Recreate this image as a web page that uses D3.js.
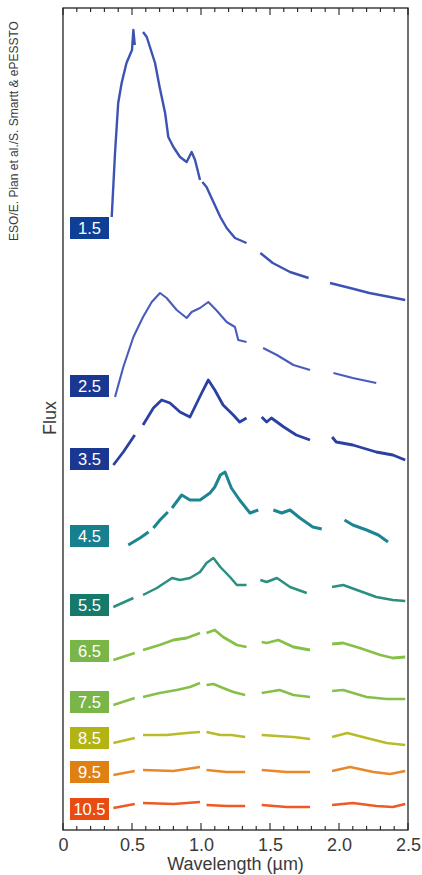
<!DOCTYPE html>
<html>
<head>
<meta charset="utf-8">
<script src="https://cdn.jsdelivr.net/npm/d3@7"></script>
<style>
  html, body { margin: 0; padding: 0; background: #fff; }
  svg { display: block; }
  text { font-family: "Liberation Sans", "DejaVu Sans", sans-serif; }
</style>
</head>
<body>
<svg id="chart" width="422" height="875"></svg>
<script>
// ---- Data (wavelength in µm, flux in arbitrary offset units; null = gap) ----
const epochs = ["1.5", "2.5", "3.5", "4.5", "5.5", "6.5", "7.5", "8.5", "9.5", "10.5"];
const xTicks = [0, 0.5, 1.0, 1.5, 2.0, 2.5];
const xTickLabels = ["0", "0.5", "1.0", "1.5", "2.0", "2.5"];
const labelFlux = [60.2, 44.4, 37.1, 29.4, 22.5, 17.9, 12.8, 9.2, 5.8, 2.1];

const spec_1_5 = [[0.353,61.3],[0.377,67.7],[0.40,72.7],[0.425,74.7],[0.46,76.7],[0.50,78.0],[0.51,80.0],[0.52,78.5],null,
  [0.58,79.8],[0.607,79.3],[0.63,78.3],[0.667,76.7],[0.70,74.3],[0.74,71.7],[0.763,69.3],[0.80,68.3],[0.848,67.3],[0.896,66.8],[0.932,67.8],[0.957,67.0],[0.993,65.0],null,
  [1.01,64.8],[1.04,64.3],[1.09,62.8],[1.14,61.3],[1.186,60.2],[1.246,59.2],[1.33,58.7],null,
  [1.43,57.7],[1.52,56.7],[1.645,55.8],[1.78,55.2],null,
  [1.935,54.7],[2.08,54.2],[2.22,53.7],[2.37,53.3],[2.48,53.0]];
const spec_2_5 = [[0.377,43.3],[0.437,46.3],[0.51,49.3],[0.58,51.3],[0.643,52.8],[0.703,53.7],[0.751,53.2],[0.824,52.0],[0.896,51.2],[0.932,51.8],[0.993,52.2],
  [1.053,52.8],[1.11,52.0],[1.186,50.8],[1.246,50.3],[1.27,49.0],[1.33,48.8],null,
  [1.45,48.2],[1.55,47.5],[1.67,46.5],[1.79,46.0],null,
  [1.96,45.7],[2.10,45.2],[2.27,44.7]];
const spec_3_5 = [[0.365,36.5],[0.437,37.8],[0.52,39.5],null,
  [0.58,40.5],[0.655,42.2],[0.715,43.0],[0.775,42.7],[0.848,41.8],[0.92,41.3],[0.98,43.0],[1.005,43.7],[1.053,45.0],[1.10,44.0],[1.16,42.5],[1.234,41.5],[1.28,40.8],[1.33,41.2],null,
  [1.44,41.3],[1.476,40.8],[1.51,41.2],[1.60,40.3],[1.69,39.5],[1.79,39.0],null,
  [1.95,39.3],[1.98,38.8],[2.10,38.5],[2.27,37.8],[2.39,37.5],[2.48,37.0]];
const spec_4_5 = [[0.473,28.5],[0.558,29.2],[0.62,29.8],null,
  [0.655,30.2],[0.703,31.0],[0.76,31.8],null,
  [0.79,32.2],[0.86,33.5],[0.92,33.0],[0.993,33.0],[1.065,33.7],[1.10,34.3],[1.14,35.5],[1.174,35.8],[1.22,34.2],[1.28,33.0],[1.355,31.7],[1.415,32.0],null,
  [1.524,32.0],[1.585,31.7],[1.645,32.0],[1.717,31.2],[1.81,30.3],[1.875,30.1],null,
  [2.04,31.0],[2.10,30.5],[2.20,30.0],[2.285,29.5],[2.355,28.8]];
const spec_5_5 = [[0.365,22.3],[0.51,23.2],null,
  [0.58,23.5],[0.68,24.2],[0.79,25.2],[0.848,25.0],[0.92,25.2],[0.993,25.8],[1.04,26.7],[1.09,27.2],[1.14,26.3],[1.21,25.3],[1.26,24.5],[1.33,24.5],null,
  [1.43,25.0],[1.476,24.8],[1.55,25.2],[1.645,24.3],[1.766,23.7],null,
  [1.95,24.3],[2.03,24.5],[2.13,24.0],[2.27,23.3],[2.39,23.0],[2.48,22.9]];
const spec_6_5 = [[0.365,17.0],[0.52,17.7],null,
  [0.58,18.0],[0.70,18.5],[0.80,19.0],[0.896,19.2],[0.993,19.7],null,
  [1.04,19.7],[1.10,20.0],[1.16,19.3],[1.26,18.5],[1.33,18.3],null,
  [1.44,18.8],[1.476,18.7],[1.56,19.0],[1.67,18.3],[1.79,18.0],null,
  [1.95,18.6],[2.03,18.7],[2.15,18.2],[2.30,17.5],[2.39,17.2],[2.48,17.3]];
const spec_7_5 = [[0.365,12.5],[0.52,13.2],null,
  [0.58,13.3],[0.70,13.7],[0.824,14.0],[0.92,14.3],[0.993,14.7],null,
  [1.04,14.5],[1.09,14.6],[1.16,14.2],[1.234,13.8],[1.32,13.5],null,
  [1.44,13.7],[1.57,14.0],[1.67,13.5],[1.79,13.3],null,
  [1.95,13.9],[2.03,14.0],[2.20,13.3],[2.345,13.1],[2.48,13.1]];
const spec_8_5 = [[0.365,8.7],[0.52,9.2],null,
  [0.58,9.5],[0.75,9.5],[0.896,9.7],[0.993,9.8],null,
  [1.04,9.8],[1.14,9.5],[1.22,9.5],[1.32,9.3],null,
  [1.44,9.5],[1.55,9.4],[1.67,9.3],[1.79,9.1],null,
  [1.95,9.3],[2.06,9.7],[2.20,9.2],[2.345,8.7],[2.48,8.5]];
const spec_9_5 = [[0.365,5.5],[0.52,5.9],null,
  [0.58,6.0],[0.80,5.9],[0.993,6.3],null,
  [1.04,6.0],[1.186,5.8],[1.32,5.8],null,
  [1.44,6.0],[1.62,5.8],[1.79,5.8],null,
  [1.95,5.9],[2.08,6.3],[2.25,5.8],[2.37,5.6],[2.48,5.9]];
const spec_10_5 = [[0.365,2.2],[0.52,2.6],null,
  [0.58,2.7],[0.80,2.6],[0.993,2.8],null,
  [1.04,2.5],[1.186,2.4],[1.32,2.4],null,
  [1.44,2.5],[1.62,2.3],[1.79,2.3],null,
  [1.95,2.5],[2.10,2.7],[2.27,2.4],[2.39,2.3],[2.48,2.6]];
const spectra = [spec_1_5, spec_2_5, spec_3_5, spec_4_5, spec_5_5, spec_6_5, spec_7_5, spec_8_5, spec_9_5, spec_10_5];

// ---- Styles ----
const boxColors  = ["#0c3f95", "#1a3792", "#1a3792", "#17808f", "#167a6b", "#7ab547", "#7ab547", "#b2b414", "#df8012", "#e84c12"];
const lineColors = ["#3e52b4", "#4a5cba", "#2b3fa2", "#1f8592", "#2a8f7e", "#86c04a", "#86c04a", "#b8bc2a", "#e8882a", "#ee5a25"];
const lineWidths = [2.4, 2.1, 2.8, 3.0, 2.5, 2.8, 2.5, 2.6, 2.4, 2.6];

const svg = d3.select("#chart");
const mLeft = 63, mRight = 408, mTop = 8, mBottom = 830;

const x = d3.scaleLinear().domain([0, 2.5]).range([mLeft, mRight]);
const y = d3.scaleLinear().domain([0, 82.2]).range([mBottom, mTop]);

// Frame
svg.append("rect")
  .attr("x", mLeft).attr("y", mTop)
  .attr("width", mRight - mLeft).attr("height", mBottom - mTop)
  .attr("fill", "none").attr("stroke", "#222").attr("stroke-width", 1.3);

// Ticks (inward, major + minor) top and bottom
const minorTicks = d3.range(0, 2.5001, 0.1).map(v => +v.toFixed(2)).filter(v => !xTicks.some(t => Math.abs(t - v) < 1e-6));
const tickG = svg.append("g").attr("stroke", "#222").attr("stroke-width", 1.1);
[[mBottom, -1], [mTop, 1]].forEach(([yy, dir]) => {
  tickG.selectAll(null).data(xTicks).enter().append("line")
    .attr("x1", d => x(d)).attr("x2", d => x(d))
    .attr("y1", yy).attr("y2", yy + dir * 7);
  tickG.selectAll(null).data(minorTicks).enter().append("line")
    .attr("x1", d => x(d)).attr("x2", d => x(d))
    .attr("y1", yy).attr("y2", yy + dir * 4);
});

// Tick labels via axis
const axis = d3.axisBottom(x).tickValues(xTicks).tickFormat((d, i) => xTickLabels[i]).tickSize(0).tickPadding(8);
const axG = svg.append("g").attr("transform", `translate(0,${mBottom})`).call(axis);
axG.select(".domain").remove();
axG.selectAll("text").attr("font-size", 18).attr("fill", "#3a3a3a")
  .attr("font-family", "'Liberation Sans', sans-serif");

// Axis titles
svg.append("text").attr("x", (mLeft + mRight) / 2).attr("y", 870)
  .attr("text-anchor", "middle").attr("font-size", 18).attr("fill", "#3a3a3a")
  .text("Wavelength (µm)");
svg.append("text").attr("transform", `translate(56,${418}) rotate(-90)`)
  .attr("text-anchor", "middle").attr("font-size", 18).attr("fill", "#3a3a3a")
  .text("Flux");
svg.append("text").attr("transform", `translate(18,${131}) rotate(-90)`)
  .attr("text-anchor", "middle").attr("font-size", 12).attr("fill", "#3a3a3a")
  .text("ESO/E. Pian et al./S. Smartt & ePESSTO");

// Spectra
const defs = svg.append("defs");
defs.append("filter").attr("id", "soft").append("feGaussianBlur").attr("stdDeviation", 0.55);

const line = d3.line().defined(d => d !== null).x(d => x(d[0])).y(d => y(d[1])).curve(d3.curveLinear);
const specG = svg.append("g").attr("filter", "url(#soft)");
spectra.forEach((s, i) => {
  specG.append("path")
    .attr("d", line(s))
    .attr("fill", "none")
    .attr("stroke", lineColors[i])
    .attr("stroke-width", lineWidths[i])
    .attr("stroke-linejoin", "round")
    .attr("stroke-linecap", "butt");
});

// Epoch labels
const labG = svg.append("g");
epochs.forEach((e, i) => {
  const cy = y(labelFlux[i]);
  labG.append("rect")
    .attr("x", 70).attr("y", cy - 11)
    .attr("width", 39).attr("height", 22)
    .attr("fill", boxColors[i]);
  labG.append("text")
    .attr("x", 89.5).attr("y", cy + 6)
    .attr("text-anchor", "middle")
    .attr("font-size", 16.5).attr("fill", "#fff")
    .text(e);
});
</script>
</body>
</html>
